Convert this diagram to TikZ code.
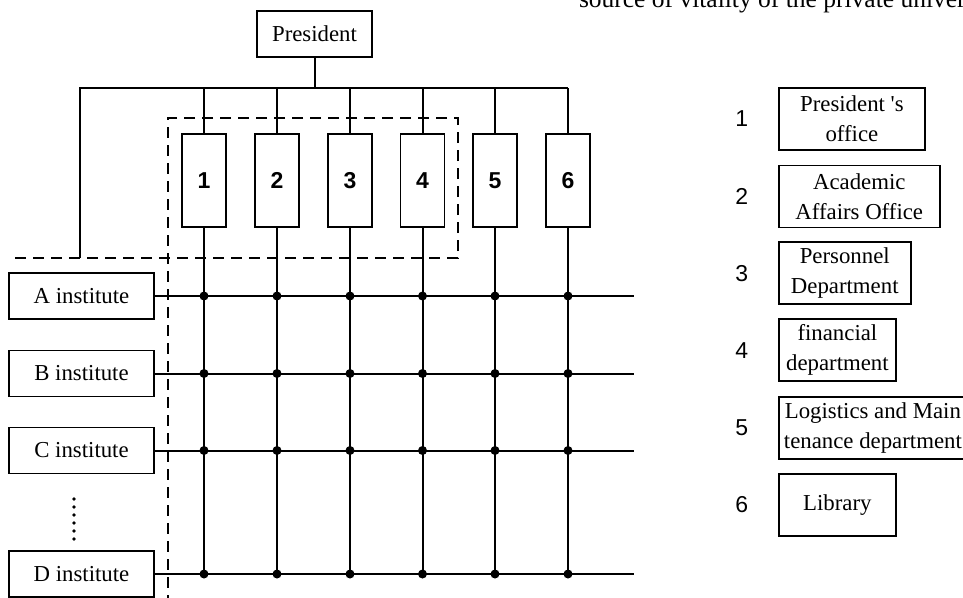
\documentclass[tikz,border=0pt]{standalone}
\usepackage{fontspec}
\setmainfont{Liberation Serif}
\newfontfamily\arialfam{Liberation Sans}
\begin{document}
\begin{tikzpicture}[x=1pt,y=-1pt,line width=2pt,
  txt/.style={font=\fontsize{22.8}{30}\selectfont},
  box/.style={txt,draw,rectangle,inner sep=0pt,line width=1.8pt,align=center},
  deptbox/.style={box,minimum width=44pt,minimum height=93pt,font=\arialfam\bfseries\fontsize{23}{28}\selectfont},
  instbox/.style={box,minimum width=145pt,minimum height=46pt},
  legbox/.style={box,anchor=west,minimum height=62pt},
  legnum/.style={font=\arialfam\fontsize{23}{28}\selectfont,inner sep=0pt},
  dashline/.style={line width=1.8pt,dash pattern=on 11pt off 7pt},
  jdot/.style={fill=black}]
\useasboundingbox (0,0) rectangle (963,597);

% cut-off body text at top
\node[font=\fontsize{25.5}{30}\selectfont,anchor=base west,inner sep=0pt] (bodytext) at (578,7) {source of vitality of the private university};

% president
\node[box,minimum width=115pt,minimum height=46pt] (P) at (314.5,34) {President};

% departments
\foreach \i/\x in {1/204,2/277,3/350,4/422.5,5/495,6/568}{
  \node[deptbox] (d\i) at (\x,180.5) {\i};
}

% top bus
\coordinate (busL) at (80,88);
\coordinate (busLend) at (80,258);
\draw (P.south) -- (P.south |- busL);
\draw (busLend) -- (busL) -- (d6.north |- busL);
\foreach \i in {1,...,6}{
  \draw (d\i.north) -- (d\i.north |- busL);
}

% institutes
\node[instbox] (A) at (81.5,296) {A institute};
\node[instbox] (B) at (81.5,373.5) {B institute};
\node[instbox] (C) at (81.5,450.5) {C institute};
\node[instbox] (D) at (81.5,574) {D institute};

\foreach \n in {A,B,C,D}{
  \coordinate (\n end) at (634,0 |- \n.east);
  \draw (\n.east) -- (\n end);
}

% department verticals and junctions
\foreach \i in {1,...,6}{
  \draw (d\i.south) -- (d\i.south |- D.east);
  \foreach \n in {A,B,C,D}{
    \fill[jdot] (d\i.south |- \n.east) circle[radius=4.5pt];
  }
}

% vertical ellipsis
\foreach \y in {499,507,515,523,531,539}{
  \fill (74,\y) circle[radius=1.8pt];
}

% dashed boundary
\coordinate (dsA) at (15,258);
\coordinate (dsB) at (458,258);
\coordinate (dsC) at (458,118);
\coordinate (dsD) at (168,118);
\coordinate (dsE) at (168,600);
\draw[dashline] (dsA) -- (dsB) -- (dsC) -- (dsD) -- (dsE);

% legend
\node[legnum] (n1) at (741.7,119) {1};
\node[legnum] (n2) at (741.7,196.4) {2};
\node[legnum] (n3) at (741.7,273.2) {3};
\node[legnum] (n4) at (741.7,350.3) {4};
\node[legnum] (n5) at (741.7,427.7) {5};
\node[legnum] (n6) at (741.7,504.7) {6};

\node[legbox,minimum width=146pt] (l1) at (778,119) {President \textquotesingle s\\office};
\node[legbox,minimum width=160.7pt] (l2) at (778,196.4) {Academic\\Affairs Office};
\node[legbox,minimum width=131.7pt] (l3) at (778,273.2) {Personnel\\Department};
\node[legbox,minimum width=117pt] (l4) at (778,350.3) {financial\\department};
\node[legbox,minimum width=188pt] (l5) at (778,427.7) {Logistics and Main\\tenance department};
\node[legbox,minimum width=117pt] (l6) at (778,504.7) {Library};
\end{tikzpicture}
\end{document}
